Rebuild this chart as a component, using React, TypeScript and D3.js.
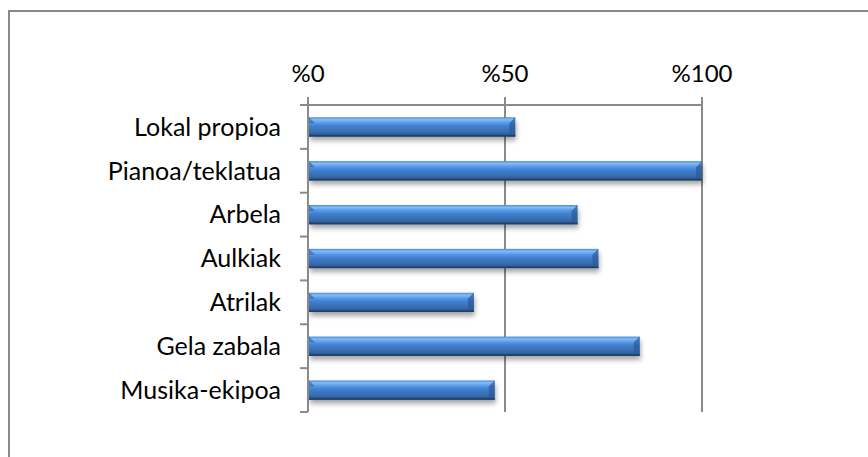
import React from "react";
import * as d3 from "d3";

const categories = ["Lokal propioa", "Pianoa/teklatua", "Arbela", "Aulkiak", "Atrilak", "Gela zabala", "Musika-ekipoa"];
const values = [52.6, 100, 68.4, 73.7, 42.1, 84.2, 47.4];
const tickValues = [0, 50, 100];
const tickLabels = ["%0", "%50", "%100"];

const W = 868, H = 457;
const plot = { left: 308, right: 702, top: 105, bottom: 412 };
const FONT = "Lato, 'Open Sans', sans-serif";

export default function App() {
  const x = d3.scaleLinear().domain([0, 100]).range([plot.left, plot.right]);
  const y = d3.scaleBand<string>().domain(categories).range([plot.top, plot.bottom]).paddingInner(0.56).paddingOuter(0.28);
  const bounds = d3.range(categories.length + 1).map((i) => plot.top + (i * (plot.bottom - plot.top)) / categories.length);
  const bh = y.bandwidth();
  const bev = Math.min(6, bh / 3);
  return (
    <svg width={W} height={H} style={{ position: "absolute", left: 0, top: 0 }} fontFamily={FONT}>
      <defs>
        <linearGradient id="barg" x1="0" y1="0" x2="0" y2="1">
          <stop offset="0" stopColor="#4a8ad9" />
          <stop offset="0.12" stopColor="#82bcf6" />
          <stop offset="0.28" stopColor="#5a9be8" />
          <stop offset="0.45" stopColor="#4080d0" />
          <stop offset="0.8" stopColor="#3769ab" />
          <stop offset="1" stopColor="#244776" />
        </linearGradient>
        <filter id="shadow" x="-5%" y="-50%" width="110%" height="220%">
          <feGaussianBlur in="SourceAlpha" stdDeviation="2.5" />
          <feOffset dx="1" dy="4" result="b" />
          <feComponentTransfer><feFuncA type="linear" slope="0.35" /></feComponentTransfer>
          <feMerge><feMergeNode /><feMergeNode in="SourceGraphic" /></feMerge>
        </filter>
      </defs>
      <rect x={0} y={0} width={W} height={H} fill="#ffffff" />
      <rect x={9} y={11} width={W + 20} height={H + 20} fill="none" stroke="#8a8a8a" strokeWidth={2} />
      {tickValues.map((t, i) => (
        <g key={t}>
          <line x1={x(t)} x2={x(t)} y1={plot.top - 8} y2={plot.bottom} stroke="#8a8a8a" strokeWidth={2} />
          <text x={x(t)} y={82} textAnchor="middle" fontSize={24} fill="#000">{tickLabels[i]}</text>
        </g>
      ))}
      <line x1={plot.left - 8} x2={plot.right} y1={plot.top} y2={plot.top} stroke="#8a8a8a" strokeWidth={2} />
      {bounds.map((b, i) => (
        <line key={i} x1={plot.left - 8} x2={plot.left} y1={b} y2={b} stroke="#8a8a8a" strokeWidth={2} />
      ))}
      {categories.map((c, i) => {
        const y0 = y(c)!;
        const x0 = x(0) + 1;
        const x1 = x(values[i]);
        return (
          <g key={c}>
            <g filter="url(#shadow)">
              <rect x={x0} y={y0} width={x1 - x0} height={bh} fill="url(#barg)" />
            </g>
            <polygon points={`${x0},${y0} ${x0 + bev},${y0 + bev} ${x0},${y0 + bev}`} fill="#2f5f9e" opacity={0.6} />
            <polygon points={`${x1},${y0} ${x1 - bev},${y0 + bev} ${x1 - bev},${y0 + bh - 1} ${x1},${y0 + bh}`} fill="#2c5a96" opacity={0.7} />
            <rect x={x0} y={y0 + bh - 1.5} width={x1 - x0} height={1.5} fill="#1f3f6a" />
            <text x={281} y={y0 + bh / 2} dy="0.35em" textAnchor="end" fontSize={25} fill="#000">{c}</text>
          </g>
        );
      })}
      <line x1={plot.left} x2={plot.left} y1={plot.top} y2={plot.bottom} stroke="#8a8a8a" strokeWidth={2} />
    </svg>
  );
}
